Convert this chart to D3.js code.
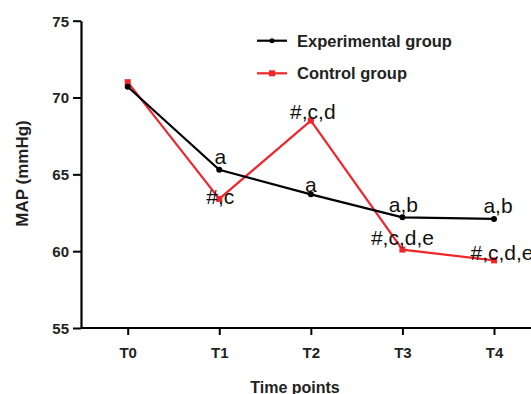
<!DOCTYPE html>
<html><head><meta charset="utf-8">
<script src="https://cdn.jsdelivr.net/npm/d3@7"></script>
<style>body{margin:0;background:#fff}svg{display:block}</style>
</head><body>
<svg id="c" width="531" height="394"></svg>
<script>
const timePoints = ["T0","T1","T2","T3","T4"];
const experimental = [70.7, 65.3, 63.7, 62.2, 62.1];
const control = [71.0, 63.4, 68.5, 60.1, 59.4];
const yTicks = [55, 60, 65, 70, 75];
const expLabels = ["", "a", "a", "a,b", "a,b"];
const ctrlLabels = ["", "#,c", "#,c,d", "#,c,d,e", "#,c,d,e"];
const seriesNames = ["Experimental group", "Control group"];

const svg = d3.select("#c");
const font = "Liberation Sans, Arial, Helvetica, sans-serif";
const x = d3.scalePoint().domain(timePoints).range([127.7, 494]);
const y = d3.scaleLinear().domain([55, 75]).range([328, 20.7]);
const axisX0 = 81;

// y axis
const ya = svg.append("g").attr("transform", `translate(${axisX0},0)`)
  .call(d3.axisLeft(y).tickValues(yTicks).tickSize(8).tickPadding(4).tickSizeOuter(0));
ya.select(".domain").attr("stroke", "#000").attr("stroke-width", 2.2);
ya.selectAll(".tick line").attr("stroke", "#000").attr("stroke-width", 2);
ya.selectAll(".tick text").attr("font-family", font).attr("font-size", 15).attr("font-weight", "bold").attr("fill", "#222").attr("dy", "0.36em");

// x axis
const xa = svg.append("g").attr("transform", `translate(0,${y(55)})`)
  .call(d3.axisBottom(x).tickSize(7).tickPadding(12).tickSizeOuter(0));
xa.select(".domain").attr("d", `M${axisX0},0H540`).attr("stroke", "#000").attr("stroke-width", 2.2);
xa.selectAll(".tick line").attr("stroke", "#000").attr("stroke-width", 2);
xa.selectAll(".tick text").attr("font-family", font).attr("font-size", 15).attr("font-weight", "bold").attr("fill", "#222");

// axis titles
svg.append("text").attr("transform", `translate(28,173.5) rotate(-90)`)
  .attr("text-anchor", "middle").attr("font-family", font).attr("font-size", 17).attr("font-weight", "bold").attr("fill", "#222").text("MAP (mmHg)");
svg.append("text").attr("x", 295).attr("y", 393)
  .attr("text-anchor", "middle").attr("font-family", font).attr("font-size", 16).attr("font-weight", "bold").attr("fill", "#222").text("Time points");

const line = d3.line().x((d, i) => x(timePoints[i])).y(d => y(d));

// control series (red)
svg.append("path").datum(control).attr("d", line).attr("fill", "none").attr("stroke", "#f0262b").attr("stroke-width", 2.2);
svg.selectAll(".rs").data(control).enter().append("rect")
  .attr("x", (d, i) => x(timePoints[i]) - 3).attr("y", d => y(d) - 3).attr("width", 6).attr("height", 6).attr("fill", "#f0262b");

// experimental series (black)
svg.append("path").datum(experimental).attr("d", line).attr("fill", "none").attr("stroke", "#000").attr("stroke-width", 2.2);
svg.selectAll(".bc").data(experimental).enter().append("circle")
  .attr("cx", (d, i) => x(timePoints[i])).attr("cy", d => y(d)).attr("r", 3).attr("fill", "#000");

// annotations
const expOff = [[0,0],[1,-6],[0,-2],[1,-5],[4,-6]];
const ctrlOff = [[0,0],[1,5],[2,-2],[0,-5],[8,0]];
svg.selectAll(".ea").data(experimental).enter().append("text")
  .attr("x", (d, i) => x(timePoints[i]) + expOff[i][0]).attr("y", (d, i) => y(d) + expOff[i][1])
  .attr("text-anchor", "middle").attr("font-family", font).attr("font-size", 21).attr("fill", "#111")
  .text((d, i) => expLabels[i]);
svg.selectAll(".ca").data(control).enter().append("text")
  .attr("x", (d, i) => x(timePoints[i]) + ctrlOff[i][0]).attr("y", (d, i) => y(d) + ctrlOff[i][1])
  .attr("text-anchor", "middle").attr("font-family", font).attr("font-size", 21).attr("fill", "#111")
  .text((d, i) => ctrlLabels[i]);

// legend
const legend = svg.append("g");
const colors = ["#000", "#f0262b"];
seriesNames.forEach((name, i) => {
  const ly = 40.7 + i * 32.6;
  legend.append("line").attr("x1", 257).attr("x2", 287).attr("y1", ly).attr("y2", ly).attr("stroke", colors[i]).attr("stroke-width", 2.2);
  if (i === 0) legend.append("circle").attr("cx", 272).attr("cy", ly).attr("r", 2.5).attr("fill", colors[i]);
  else legend.append("rect").attr("x", 269).attr("y", ly - 3).attr("width", 6).attr("height", 6).attr("fill", colors[i]);
  legend.append("text").attr("x", 297).attr("y", ly).attr("dy", "0.36em").attr("font-family", font).attr("font-size", 16.5).attr("font-weight", "bold").attr("fill", "#222").text(name);
});
</script>
</body></html>
